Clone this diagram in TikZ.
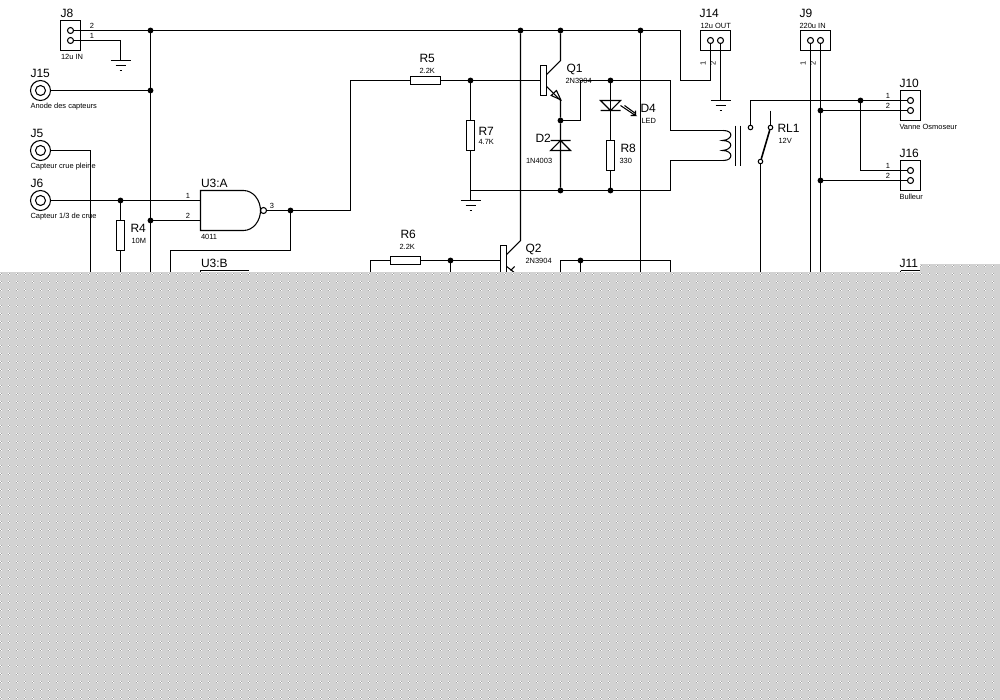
\documentclass[tikz,border=0pt]{standalone}
\usepackage{fontspec}
\setmainfont{Liberation Sans}
\definecolor{maskgrey}{HTML}{D2D2D2}
\definecolor{maskdark}{HTML}{A4A4A4}
\tikzset{
    big/.style={anchor=base west, inner sep=0pt, font=\fontsize{9}{10}\selectfont},
    tiny/.style={anchor=base west, inner sep=0pt, font=\fontsize{5.6}{6}\selectfont},
    num/.style={anchor=base, inner sep=0pt, font=\fontsize{5.6}{6}\selectfont},
    dot/.style={circle, fill=black, inner sep=0pt, outer sep=0pt, minimum size=4.4pt},
    pin/.style={circle, draw, inner sep=0pt, minimum size=4.5pt},
    cont/.style={circle, draw, inner sep=0pt, minimum size=3.4pt},
    jack/.style={circle, draw, inner sep=0pt, minimum size=15pt},
    jackin/.style={circle, draw, inner sep=0pt, minimum size=7.5pt},
    vres/.style={draw, inner sep=0pt, minimum width=6.4pt, minimum height=22.5pt},
    hres/.style={draw, inner sep=0pt, minimum width=22.5pt, minimum height=6.4pt},
    bar/.style={draw, inner sep=0pt, minimum width=4pt, minimum height=22.5pt},
    mask/.style={line width=0.75pt, dash pattern=on 0.75pt off 5.25pt},
    earth/.pic={\draw (-10, 0) -- (10, 0) (-5, 5) -- (5, 5) (-1, 10) -- (1, 10);}
}
\begin{document}
\begin{tikzpicture}[x=0.75pt, y=-0.75pt, line width=0.8pt]
    \useasboundingbox (0, 0) rectangle (1000, 700);
    \begin{scope}[shift={(0.5, 0.5)}]

    \draw (60, 20) rectangle (80, 50);
    \draw (700, 30) rectangle (730, 50);
    \draw (800, 30) rectangle (830, 50);
    \draw (900, 90) rectangle (920, 120);
    \draw (900, 160) rectangle (920, 190);
    \draw (900, 270) -- (920, 270) (900, 270) -- (900, 280) (920, 270) -- (920, 280);

    \node[pin] (J8b) at (70, 30) {};
    \node[pin] (J8a) at (70, 40) {};
    \node[pin] (J14a) at (710, 40) {};
    \node[pin] (J14b) at (720, 40) {};
    \node[pin] (J9a) at (810, 40) {};
    \node[pin] (J9b) at (820, 40) {};
    \node[pin] (J10a) at (910, 100) {};
    \node[pin] (J10b) at (910, 110) {};
    \node[pin] (J16a) at (910, 170) {};
    \node[pin] (J16b) at (910, 180) {};

    \node[jack] (J15) at (40, 90) {};
    \node[jackin] (J15i) at (40, 90) {};
    \node[jack] (J5) at (40, 150) {};
    \node[jackin] (J5i) at (40, 150) {};
    \node[jack] (J6) at (40, 200) {};
    \node[jackin] (J6i) at (40, 200) {};

    \node[dot] (n1) at (150, 30) {};
    \node[dot] (n2) at (150, 90) {};
    \node[dot] (n3) at (150, 220) {};
    \node[dot] (n4) at (120, 200) {};
    \node[dot] (n5) at (290, 210) {};
    \node[dot] (n6) at (520, 30) {};
    \node[dot] (n7) at (560, 30) {};
    \node[dot] (n8) at (640, 30) {};
    \node[dot] (n9) at (470, 80) {};
    \node[dot] (n10) at (610, 80) {};
    \node[dot] (n11) at (560, 120) {};
    \node[dot] (n12) at (560, 190) {};
    \node[dot] (n13) at (610, 190) {};
    \node[dot] (n14) at (450, 260) {};
    \node[dot] (n15) at (580, 260) {};
    \node[dot] (n16) at (860, 100) {};
    \node[dot] (n17) at (820, 110) {};
    \node[dot] (n18) at (820, 180) {};

    \node[vres] (R4) at (120, 235) {};
    \node[hres] (R5) at (425, 80) {};
    \node[hres] (R6) at (405, 260) {};
    \node[vres] (R7) at (470, 135) {};
    \node[vres] (R8) at (610, 155) {};
    \node[bar] (Q1) at (543, 80) {};
    \node[bar] (Q2) at (503, 260) {};

    \coordinate (g1) at (120, 60);
    \coordinate (g2) at (470, 200);
    \coordinate (g3) at (720, 100);
    \pic at (g1) {earth};
    \pic at (g2) {earth};
    \pic at (g3) {earth};

    \draw (200, 190) -- (243, 190) .. controls (253, 190) and (260, 200) .. (260, 210) .. controls (260, 220) and (253, 230) .. (243, 230) -- (200, 230) -- cycle;
    \node[pin] (U3a) at (263, 210) {};
    \coordinate (U3a1) at (200, 200);
    \coordinate (U3a2) at (200, 220);
    \draw (200, 280) -- (200, 270) -- (248, 270);

    \draw (J8b) -- (n1) -- (n6) -- (n7) -- (n8) -- (680, 30) -- (680, 80) -| (J14a);
    \draw (J8a) -| (g1);
    \draw (J14b) -- (g3);
    \draw (J15) -- (n2);
    \draw (n1) -- (n2) -- (n3) -- (150, 280);
    \draw (J5) -| (90, 280);
    \draw (J6) -- (n4) -- (U3a1);
    \draw (n3) -- (U3a2);
    \draw (n4) -- (R4);
    \draw (R4) -- (120, 280);
    \draw (U3a) -- (n5) -- (350, 210) -- (350, 80) -- (R5);
    \draw (n5) -- (290, 250) -- (170, 250) -- (170, 280);
    \draw (R5) -- (n9) -- (Q1);
    \draw (n9) -- (R7);
    \draw (R7) -- (g2);
    \draw (470, 190) -- (n12) -- (n13) -- (670, 190) -- (670, 160) -- (723, 160);

    \draw (Q1.east |- 0, 74) -- (560, 60) -- (n7);
    \draw (Q1.east |- 0, 86) -- (560, 100) -- (n11) -- (n12);
    \draw (550.7, 95) -- (556, 90) -- (560.3, 99.3) -- cycle;
    \draw (n11) -- (580, 120) -- (580, 80) -- (n10) -- (670, 80) -- (670, 130) -- (723, 130);

    \draw (550, 140) -- (570, 140) -- (560, 140) -- (550, 150) -- (570, 150) -- (560, 140);
    \draw (n10) -- (R8);
    \draw (R8) -- (n13);
    \draw (600, 110) -- (620, 110) -- (610, 110) -- (600, 100) -- (620, 100) -- (610, 110);
    \draw (620, 105) -- (635, 115) -- (630, 115) (635, 115) -- (635, 110);
    \draw (624, 105) -- (635, 113);

    \draw (n6) -- (520, 240) -- (Q2.east |- 0, 254);
    \draw (Q2.east |- 0, 266) -- (520, 277);
    \draw (514, 266) -- (510, 270);
    \draw (370, 280) -- (370, 260) -- (R6);
    \draw (R6) -- (n14) -- (Q2);
    \draw (n14) -- (450, 280);
    \draw (560, 280) -- (560, 260) -- (n15) -- (670, 260) -- (670, 280);
    \draw (n15) -- (580, 280);
    \draw (n8) -- (640, 280);

    \draw (723, 130) .. controls (733, 130) and (733, 139) .. (722, 140) .. controls (733, 140) and (733, 149) .. (722, 150) .. controls (733, 150) and (733, 160) .. (723, 160);
    \draw (735, 125) -- (735, 165) (740, 125) -- (740, 165);

    \node[cont] (K1) at (750, 127) {};
    \node[cont] (K2) at (770, 127) {};
    \node[cont] (K3) at (760, 161) {};
    \coordinate (K4) at (770, 110);
    \draw (K1) |- (n16);
    \draw (K4) -- (K2);
    \draw[line width=1.2pt] (K3) -- (K2);
    \draw (K3) -- (760, 280);
    \draw (n16) -- (J10a);
    \draw (n17) -- (J10b);
    \draw (n16) |- (J16a);
    \draw (n18) -- (J16b);
    \draw (J9a) -- (810, 280);
    \draw (J9b) -- (n17) -- (n18) -- (820, 280);
    \end{scope}

    \node[big] (tJ8) at (60, 17) {J8};
    \node[tiny] (t12in) at (60.5, 59) {12u IN};
    \node[num] (tJ8b) at (92, 28) {2};
    \node[num] (tJ8a) at (92, 38) {1};
    \node[big] (tJ15) at (30, 77) {J15};
    \node[tiny] (tAnode) at (30, 108) {Anode des capteurs};
    \node[big] (tJ5) at (30, 137) {J5};
    \node[tiny] (tPleine) at (30, 168) {Capteur crue pleine};
    \node[big] (tJ6) at (30, 187) {J6};
    \node[tiny] (tTiers) at (30, 218) {Capteur 1/3 de crue};
    \node[big] (tU3a) at (200.5, 187) {U3:A};
    \node[num] (tU3a1) at (188, 198) {1};
    \node[num] (tU3a2) at (188, 218) {2};
    \node[num] (tU3a3) at (272, 208) {3};
    \node[tiny] (t4011) at (200.5, 239) {4011};
    \node[big] (tU3b) at (200.5, 267) {U3:B};
    \node[big] (tR4) at (130, 232) {R4};
    \node[tiny] (t10M) at (131, 243) {10M};
    \node[big] (tR5) at (419, 62) {R5};
    \node[tiny] (t22a) at (419, 73) {2.2K};
    \node[big] (tR6) at (400, 238) {R6};
    \node[tiny] (t22b) at (399, 249) {2.2K};
    \node[big] (tR7) at (478, 135) {R7};
    \node[tiny] (t47) at (478, 144) {4.7K};
    \node[big] (tR8) at (620, 152) {R8};
    \node[tiny] (t330) at (619, 163) {330};
    \node[big] (tQ1) at (566, 72) {Q1};
    \node[tiny] (tQ1t) at (565, 83) {2N3904};
    \node[big] (tQ2) at (525, 252) {Q2};
    \node[tiny] (tQ2t) at (525, 263) {2N3904};
    \node[big] (tD2) at (535, 142) {D2};
    \node[tiny] (tD2t) at (525.5, 163) {1N4003};
    \node[big] (tD4) at (640, 112) {D4};
    \node[tiny] (tLED) at (641, 123) {LED};
    \node[big] (tJ14) at (699, 17) {J14};
    \node[tiny] (t12out) at (700, 28) {12u OUT};
    \node[num, anchor=center, rotate=90] (tJ14a) at (703, 63) {1};
    \node[num, anchor=center, rotate=90] (tJ14b) at (713, 63) {2};
    \node[big] (tJ9) at (799, 17) {J9};
    \node[tiny] (t220) at (799, 28) {220u IN};
    \node[num, anchor=center, rotate=90] (tJ9a) at (803, 63) {1};
    \node[num, anchor=center, rotate=90] (tJ9b) at (813, 63) {2};
    \node[big] (tRL1) at (777, 132) {RL1};
    \node[tiny] (t12V) at (778, 143) {12V};
    \node[big] (tJ10) at (899, 87) {J10};
    \node[num] (tJ10a) at (888, 98) {1};
    \node[num] (tJ10b) at (888, 108) {2};
    \node[tiny] (tVanne) at (899, 129) {Vanne Osmoseur};
    \node[big] (tJ16) at (899, 157) {J16};
    \node[num] (tJ16a) at (888, 168) {1};
    \node[num] (tJ16b) at (888, 178) {2};
    \node[tiny] (tBull) at (899, 199) {Bulleur};
    \node[big] (tJ11) at (899, 267) {J11};

    \fill[maskgrey] (0, 272) -- (920, 272) -- (920, 264) -- (1000, 264) -- (1000, 700) -- (0, 700) -- cycle;
    \draw[white, mask] (920, 265.5) -- (1000, 265.5);
    \draw[maskdark, mask] (921, 265.5) -- (1000, 265.5);
    \draw[maskdark, mask] (920, 266.5) -- (1000, 266.5);
    \draw[white, mask] (921, 266.5) -- (1000, 266.5);
    \foreach \yy in {273, 281, ..., 697} {
        \draw[white, mask] (0, \yy + 0.5) -- (1000, \yy + 0.5);
        \draw[maskdark, mask] (1, \yy + 0.5) -- (1000, \yy + 0.5);
        \draw[maskdark, mask] (0, \yy + 1.5) -- (1000, \yy + 1.5);
        \draw[white, mask] (1, \yy + 1.5) -- (1000, \yy + 1.5);
    }
\end{tikzpicture}
\end{document}
